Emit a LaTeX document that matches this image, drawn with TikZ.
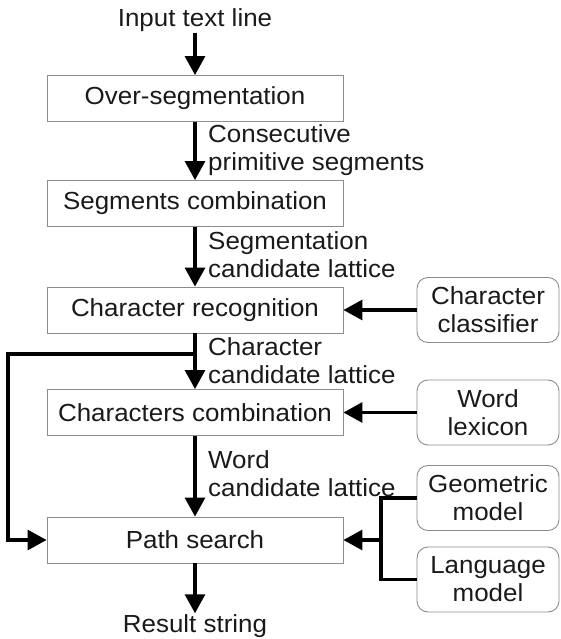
\documentclass[tikz,border=0pt]{standalone}
\usepackage{fontspec}
\setmainfont{Liberation Sans}[FakeStretch=1.05]
\usetikzlibrary{arrows.meta}
\definecolor{frame}{HTML}{8C8C8C}
\definecolor{ink}{HTML}{1A1A1A}
\tikzset{
  procbox/.style={draw=frame,line width=0.9pt,minimum width=296pt,minimum height=46pt,
    inner sep=0pt,text=ink},
  srcbox/.style={draw=frame,line width=0.9pt,rounded corners=11pt,minimum width=142pt,
    minimum height=65pt,align=center,inner sep=0pt,text=ink},
  note/.style={anchor=west,align=left,inner sep=0pt,text=ink},
  term/.style={inner sep=1pt,text=ink},
  arr/.style={-{Triangle[length=19pt,width=20pt]},line width=3.1pt},
  link/.style={line width=3.1pt},
}
\begin{document}
\begin{tikzpicture}[x=1pt,y=1pt,font=\fontsize{24.7}{28}\selectfont]
  \useasboundingbox (0,0) rectangle (560,-639);
  % main chain
  \node[term] (in) at (195,-20) {Input text line};
  \node[procbox] (oseg) at (195,-98.5) {Over-segmentation};
  \node[procbox] (scomb) at (195,-203.5) {Segments combination};
  \node[procbox] (crec) at (195,-310) {Character recognition};
  \node[procbox] (ccomb) at (195,-412.5) {Characters combination};
  \node[procbox] (psearch) at (195,-540) {Path search};
  \node[term] (out) at (195,-626) {Result string};
  % knowledge sources
  \node[srcbox] (cls) at (488,-310) {Character\\classifier};
  \node[srcbox] (lex) at (488,-412.5) {Word\\lexicon};
  \node[srcbox] (geo) at (488,-498) {Geometric\\model};
  \node[srcbox] (lang) at (488,-579.5) {Language\\model};
  % labels on the chain
  \node[note] (l1) at (208,-150) {Consecutive\\primitive segments};
  \node[note] (l2) at (208,-255) {Segmentation\\candidate lattice};
  \node[note] (l3) at (208,-360.5) {Character\\candidate lattice};
  \node[note] (l4) at (208,-474) {Word\\candidate lattice};
  \draw[arr] (in) -- (oseg);
  \draw[arr] (oseg) -- (scomb);
  \draw[arr] (scomb) -- (crec);
  \draw[arr] (crec) -- (ccomb);
  \draw[arr] (ccomb) -- (psearch);
  \draw[arr] (psearch) -- (out);
  \draw[arr] (cls) -- (crec);
  \draw[arr] (lex) -- (ccomb);
  % bypass and model join
  \coordinate (split) at (195,-354);
  \coordinate (join) at (381,-540);
  \draw[arr] (split) -- ++(-187,0) |- (psearch.west);
  \draw[link] (geo.west) -| (join) |- (lang.west);
  \draw[arr] (join) -- (psearch.east);
\end{tikzpicture}
\end{document}
